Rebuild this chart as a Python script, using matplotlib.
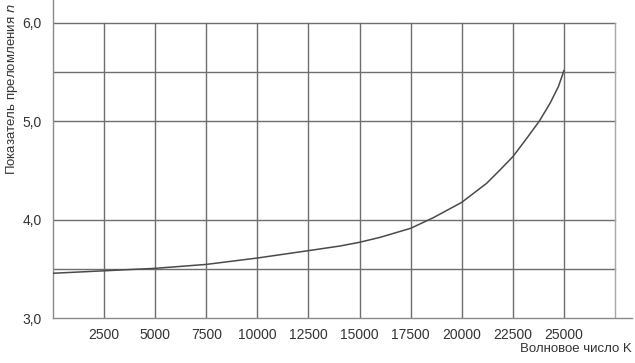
import matplotlib
matplotlib.use("Agg")
import matplotlib.pyplot as plt
import numpy as np

# Data
wavenumber = [0, 2500, 5000, 7500, 10000, 12500, 14040, 15000, 16000, 17500, 18610,
              20000, 21220, 21870, 22500, 23180, 23800, 24320, 24730, 25000]
refr_index = [3.455, 3.48, 3.505, 3.545, 3.61, 3.685, 3.732, 3.77, 3.82, 3.912, 4.02,
              4.176, 4.37, 4.505, 4.64, 4.827, 5.003, 5.183, 5.353, 5.515]

x_ticks = [2500, 5000, 7500, 10000, 12500, 15000, 17500, 20000, 22500, 25000]
x_grid = [2500, 5000, 7500, 10000, 12500, 15000, 17500, 20000, 22500, 25000, 27500]
y_ticks = [3.0, 4.0, 5.0, 6.0]
y_tick_labels = ["3,0", "4,0", "5,0", "6,0"]
y_grid = [3.5, 4.0, 5.0, 5.5, 6.0]

plt.rcParams['font.family'] = ['Liberation Sans', 'DejaVu Sans']

fig = plt.figure(figsize=(6.35, 3.63), dpi=100)
W, H = 635, 363
left, right = 53, 632
top, bottom = 0, 318
ax = fig.add_axes([left / W, 1 - bottom / H, (right - left) / W, (bottom - top) / H])

ppu = (318 - 23) / 3.0
ymax = 3.0 + 318 / ppu
xppu = (615 - 53) / 27500
xmax = (632 - 53) / xppu
ax.set_xlim(0, xmax)
ax.set_ylim(3.0, ymax)

gcol = "#6e6e6e"
for gy in y_grid:
    ax.plot([0, 27500], [gy, gy], color=gcol, lw=1.0, zorder=1)
for gx in x_grid:
    c = "#a8a8a8" if gx == 27500 else gcol
    ax.plot([gx, gx], [3.0, 6.0], color=c, lw=1.0, zorder=1)

ax.plot(wavenumber, refr_index, color="#4a4a4a", lw=1.1, zorder=3)

for s in ["top", "right"]:
    ax.spines[s].set_visible(False)
for s in ["left", "bottom"]:
    ax.spines[s].set_color("#8a8a8a")
    ax.spines[s].set_linewidth(1.0)

ax.set_xticks(x_ticks)
ax.set_xticklabels([str(t) for t in x_ticks])
ax.set_yticks(y_ticks)
ax.set_yticklabels(y_tick_labels)
ax.tick_params(axis='both', length=0, labelsize=10, colors="#333333")
ax.tick_params(axis='x', pad=7.5)
ax.tick_params(axis='y', pad=8)

fig.text(12 / W, 1 - 89 / H, "Показатель преломления $\\mathit{n}$", rotation=90,
         ha='center', va='center', fontsize=9.5, color="#333333")
fig.text(632 / W, 1 - 349 / H, "Волновое число K", ha='right', va='center',
         fontsize=9.5, color="#333333")

fig.savefig("out.png", dpi=100)
